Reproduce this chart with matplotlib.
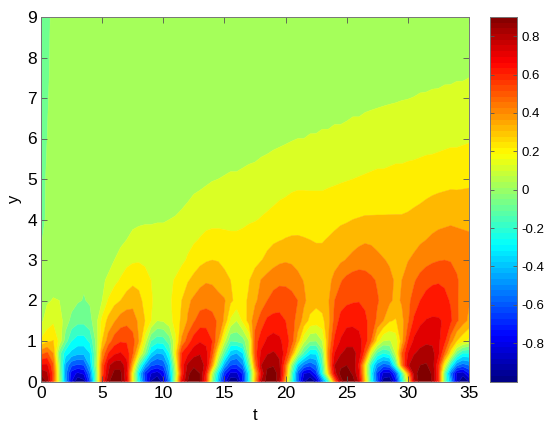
import numpy as np
import matplotlib
matplotlib.use("Agg")
import matplotlib.pyplot as plt
from matplotlib.colors import ListedColormap

plt.rcParams['font.family'] = ['Liberation Sans', 'DejaVu Sans']

# time columns: 0, 0.5, ... 35 (one list per height)
t_step = 0.5
t_count = 71

u_y0_0 = [1.0,.88,.54,.07,-.42,-.80,-.99,-.94,-.6,-.05,
 .6,.88,.97,.93,.75,.2,-.25,-.6,-.91,-1.0,
 -.84,-.48,.1,.7,.9,.98,.9,.6,0,-.38,
 -.76,-.98,-.96,-.7,-.25,.35,.8,.95,.98,.82,
 .35,-.15,-.55,-.88,-1.0,-.88,-.53,-.15,.45,.85,
 .98,.95,.78,.3,-.2,-.6,-.96,-.98,-.75,-.25,
 .2,.78,.95,1.0,.88,.62,-.05,-.4,-.85,-1.0,
 -.9]
u_y0_2 = [.88,.82,.56,.05,-.45,-.75,-.82,-.78,-.5,-.05,
 .55,.8,.93,.93,.72,.2,-.3,-.65,-.8,-.85,
 -.75,-.4,.05,.62,.88,.95,.9,.66,.1,-.3,
 -.65,-.82,-.82,-.68,-.25,.3,.72,.93,.96,.85,
 .45,-.1,-.55,-.8,-.82,-.65,-.2,.3,.75,.93,
 .97,.88,.72,.25,-.25,-.62,-.82,-.84,-.6,-.15,
 .38,.85,.95,.97,.88,.62,-.05,-.5,-.82,-.85,
 -.7]
u_y0_4 = [.72,.72,.52,.02,-.42,-.58,-.62,-.6,-.38,.02,
 .52,.78,.86,.86,.75,.35,-.1,-.4,-.58,-.62,
 -.58,-.35,.12,.65,.82,.88,.87,.76,.4,-.05,
 -.42,-.6,-.62,-.5,-.1,.45,.8,.88,.89,.82,
 .5,.03,-.35,-.52,-.58,-.5,-.15,.4,.8,.88,
 .9,.87,.68,.25,-.2,-.45,-.55,-.52,-.15,.45,
 .78,.88,.9,.91,.86,.62,.2,-.2,-.48,-.55,
 -.5]
u_y0_7 = [.47,.52,.4,-.05,-.25,-.33,-.37,-.37,-.3,0,
 .42,.6,.68,.71,.65,.52,.25,0,-.3,-.4,
 -.38,-.2,.25,.6,.68,.76,.79,.74,.55,.2,
 -.1,-.35,-.4,-.3,.08,.55,.72,.79,.81,.78,
 .65,.42,.1,-.12,-.28,-.28,-.05,.45,.7,.79,
 .83,.83,.77,.55,.15,-.12,-.2,-.15,.12,.5,
 .7,.79,.83,.85,.83,.73,.5,.25,-.05,-.2,
 -.2]
u_y1_0 = [.22,.28,.305,.17,-.05,-.2,-.25,-.25,-.18,.02,
 .3,.45,.55,.59,.59,.54,.4,.15,-.1,-.16,
 -.15,-.05,.18,.42,.55,.65,.69,.67,.6,.4,
 .13,-.1,-.08,-.05,.1,.55,.65,.72,.74,.72,
 .66,.55,.35,.13,.01,0,.1,.4,.62,.71,
 .77,.77,.74,.65,.5,.25,.1,.09,.14,.35,
 .6,.72,.76,.78,.78,.72,.63,.45,.3,.23,
 .17]
u_y1_5 = [.08,.14,.18,.15,.05,-.03,-.07,-.07,-.03,.06,
 .23,.33,.39,.45,.47,.45,.38,.3,.2,.1,
 .11,.16,.24,.32,.41,.49,.55,.56,.54,.48,
 .38,.18,.1,.22,.34,.46,.55,.62,.64,.635,
 .6,.54,.46,.36,.27,.25,.27,.37,.53,.64,
 .665,.67,.66,.62,.56,.48,.4,.31,.29,.37,
 .48,.62,.68,.705,.71,.71,.69,.62,.52,.44,
 .38]
u_y2_0 = [.05,.09,.105,.10,.08,.04,.01,-.005,.01,.06,
 .1,.21,.27,.3,.34,.365,.33,.27,.21,.17,
 .15,.18,.24,.3,.38,.42,.45,.46,.45,.43,
 .41,.32,.27,.28,.31,.38,.44,.5,.53,.55,
 .555,.54,.5,.42,.36,.33,.35,.39,.5,.55,
 .58,.59,.595,.58,.55,.51,.47,.42,.375,.41,
 .48,.53,.6,.64,.66,.65,.63,.59,.51,.46,
 .41]
u_y2_5 = [.03,.06,.07,.05,.03,.02,.01,.01,0,.03,
 .08,.12,.17,.21,.25,.275,.27,.24,.2,.175,
 .165,.18,.21,.25,.29,.33,.37,.39,.385,.36,
 .33,.3,.275,.275,.295,.345,.405,.44,.47,.48,
 .475,.455,.425,.395,.365,.34,.335,.37,.43,.49,
 .53,.555,.565,.55,.52,.49,.45,.42,.39,.4,
 .45,.49,.53,.56,.58,.59,.58,.55,.51,.47,
 .44]
u_y3_0 = [.01,.02,.02,.02,.02,.02,.02,.02,.02,.02,
 .03,.06,.1,.14,.17,.185,.19,.18,.16,.145,
 .135,.14,.155,.18,.21,.24,.27,.29,.30,.295,
 .275,.26,.25,.245,.25,.27,.295,.325,.355,.38,
 .39,.385,.37,.35,.335,.325,.325,.335,.36,.385,
 .405,.425,.44,.445,.44,.42,.405,.39,.38,.385,
 .395,.42,.45,.47,.485,.495,.50,.495,.48,.465,
 .45]
u_y3_5 = [-.005,.02,.02,.02,.02,.02,.02,.02,.015,.015,
 .02,.03,.05,.075,.10,.12,.13,.13,.13,.125,
 .125,.13,.145,.16,.175,.19,.205,.22,.225,.225,
 .22,.215,.215,.22,.235,.245,.26,.27,.285,.295,
 .305,.31,.31,.305,.30,.295,.295,.305,.32,.335,
 .35,.365,.38,.39,.385,.375,.36,.355,.35,.35,
 .355,.365,.385,.40,.415,.425,.43,.435,.43,.425,
 .42]
u_y4_0 = [-.02,.01,.015,.015,.015,.015,.015,.015,.015,.015,
 .02,.03,.05,.06,.07,.08,.085,.09,.09,.095,
 .095,.10,.105,.115,.13,.15,.165,.175,.18,.18,
 .18,.18,.18,.185,.19,.195,.205,.215,.225,.24,
 .25,.26,.265,.265,.26,.26,.26,.27,.275,.285,
 .29,.30,.305,.31,.31,.31,.31,.31,.31,.31,
 .315,.325,.335,.35,.365,.375,.38,.385,.38,.375,
 .37]
u_y5_0 = [-.03,.01,.015,.015,.015,.015,.015,.015,.015,.015,
 .015,.015,.02,.02,.025,.03,.03,.035,.035,.04,
 .04,.045,.05,.055,.06,.07,.075,.085,.095,.10,
 .105,.11,.11,.115,.12,.125,.135,.14,.15,.155,
 .16,.17,.175,.175,.175,.175,.175,.18,.185,.19,
 .195,.20,.205,.21,.215,.22,.22,.225,.23,.23,
 .235,.24,.245,.25,.255,.26,.265,.27,.27,.275,
 .28]
u_y6_0 = [-.03,.0,.01,.015,.015,.015,.015,.015,.015,.015,
 .015,.015,.015,.015,.02,.02,.02,.02,.02,.02,
 .025,.025,.03,.03,.035,.035,.04,.04,.045,.05,
 .05,.055,.055,.06,.065,.065,.07,.075,.08,.085,
 .09,.095,.10,.10,.105,.105,.11,.11,.115,.115,
 .12,.125,.125,.13,.135,.14,.14,.145,.15,.15,
 .155,.155,.16,.165,.165,.17,.175,.18,.18,.185,
 .19]
u_y7_5 = [-.04,-.005,.01,.015,.015,.015,.015,.015,.015,.015,
 .015,.015,.015,.015,.015,.015,.02,.02,.02,.02,
 .02,.02,.02,.02,.02,.02,.02,.02,.025,.025,
 .025,.025,.03,.03,.03,.03,.03,.035,.035,.035,
 .035,.035,.04,.04,.04,.045,.045,.045,.05,.05,
 .05,.055,.055,.06,.06,.06,.065,.065,.065,.07,
 .07,.075,.08,.08,.085,.085,.09,.09,.095,.095,
 .10]
u_y9_0 = [-.04,-.01,.01,.015,.015,.015,.015,.015,.015,.015,
 .015,.015,.015,.015,.015,.015,.015,.015,.015,.015,
 .02,.02,.02,.02,.02,.02,.02,.02,.02,.02,
 .02,.02,.02,.02,.02,.02,.02,.02,.02,.02,
 .025,.025,.025,.025,.025,.025,.025,.025,.025,.025,
 .03,.03,.03,.03,.03,.03,.03,.03,.03,.03,
 .03,.03,.035,.035,.035,.035,.035,.04,.04,.04,
 .04]

y_rows = [0, .2, .4, .7, 1, 1.5, 2, 2.5, 3, 3.5, 4, 5, 6, 7.5, 9]
u_rows = [u_y0_0, u_y0_2, u_y0_4, u_y0_7, u_y1_0, u_y1_5, u_y2_0, u_y2_5,
          u_y3_0, u_y3_5, u_y4_0, u_y5_0, u_y6_0, u_y7_5, u_y9_0]

x_ticks = [0, 5, 10, 15, 20, 25, 30, 35]
y_ticks = list(range(10))
cbar_ticks = [-0.8, -0.6, -0.4, -0.2, 0, 0.2, 0.4, 0.6, 0.8]
cbar_labels = ['-0.8', '-0.6', '-0.4', '-0.2', '0', '0.2', '0.4', '0.6', '0.8']


def jet(v):
    """MATLAB's jet colour map."""
    r = np.interp(v, [0, .375, .625, .875, 1], [0, 0, 1, 1, .5])
    g = np.interp(v, [0, .125, .375, .625, .875, 1], [0, 0, 1, 1, 0, 0])
    b = np.interp(v, [0, .125, .375, .625, 1], [.5, 1, 1, 0, 0])
    return np.stack([r, g, b], axis=-1)


W, H = 550, 426
fig = plt.figure(figsize=(W/100, H/100), dpi=100)
def box(l, t, r, b):
    return [l/W, 1-b/H, (r-l)/W, (b-t)/H]

ax = fig.add_axes(box(41, 17, 469, 381.5))
cax = fig.add_axes(box(490, 17, 517, 381.5))

t = np.arange(t_count) * t_step
U = np.array(u_rows)
vmin, vmax = -1.0, 0.9
lowers = np.round(np.arange(-1.0, 0.95, 0.1), 1)
levels = np.r_[-1.05, lowers[1:], 1.05]
colors = [tuple(jet(min((l - vmin)/(vmax - vmin) + 0.01, 1.0))) for l in lowers]
cs = ax.contourf(t, y_rows, U, levels=levels, colors=colors, antialiased=True)
cs.set_edgecolor('face')
cs.set_linewidth(0.3)

ax.set_xlim(0, 35)
ax.set_ylim(0, 9)
ax.set_xticks(x_ticks)
ax.set_yticks(y_ticks)
ax.set_xlabel('t', fontsize=12, labelpad=5)
ax.set_ylabel('y', fontsize=12, labelpad=4)
ax.tick_params(direction='in', top=True, right=True, length=4, width=0.6,
               color='#555555', labelsize=12.5, pad=3)

grad = np.linspace(vmin, vmax, 65)
cmap64 = ListedColormap(jet((np.arange(64) + 0.5)/64))
cax.pcolormesh([0, 1], grad, ((grad[:-1] + grad[1:])/2)[:, None], cmap=cmap64,
               vmin=vmin, vmax=vmax)
cax.set_xlim(0, 1)
cax.set_ylim(vmin, vmax)
cax.set_xticks([])
cax.set_yticks(cbar_ticks)
cax.set_yticklabels(cbar_labels)
cax.yaxis.tick_right()
cax.tick_params(axis='y', direction='in', left=True, right=True, length=3, width=0.6,
                color='#555555', labelsize=9.5, pad=3)
for a in (ax, cax):
    for s in a.spines.values():
        s.set_linewidth(0.7)
        s.set_color('#777777')

fig.savefig('out.png', dpi=100)
